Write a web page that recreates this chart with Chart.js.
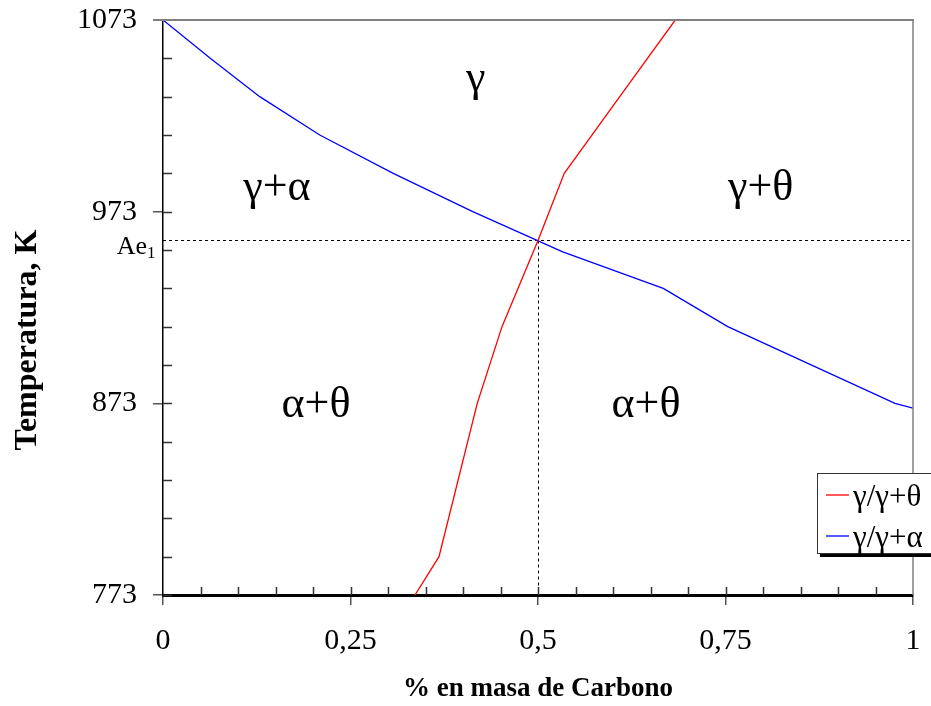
<!DOCTYPE html>
<html>
<head>
<meta charset="utf-8">
<script src="https://cdn.jsdelivr.net/npm/chart.js@4.4.1/dist/chart.umd.min.js"></script>
<style>
    body { margin: 0; background: #fff; }
    #wrap { width: 931px; height: 706px; position: relative; }
</style>
</head>
<body>
<div id="wrap"><canvas id="diagram"></canvas></div>
<script>
// gamma / gamma+theta boundary (red)
const redCarbon = [0.336, 0.368, 0.419, 0.452, 0.5, 0.535, 0.609, 0.683];
const redTemp = [773, 793, 873, 913, 958, 993, 1033, 1073];

// gamma / gamma+alpha boundary (blue)
const blueCarbon = [0, 0.063, 0.129, 0.209, 0.307, 0.413, 0.533, 0.667, 0.753, 0.976, 1];
const blueTemp = [1073, 1053, 1033, 1013, 993, 973, 952, 933, 913, 873, 870.5];

const seriesLabels = ["γ/γ+θ", "γ/γ+α"];
const xTicks = [0, 0.25, 0.5, 0.75, 1];
const yTicks = [773, 873, 973, 1073];

const ae1Temp = 958;
const ae1Carbon = 0.5;

const regionText = ["γ", "γ+α", "γ+θ", "α+θ", "α+θ"];
const regionCarbon = [0.417, 0.152, 0.797, 0.204, 0.644];
const regionTemp = [1042, 985, 985, 872, 872];

const serif = "'Liberation Serif', 'Times New Roman', serif";

function toPoints(xs, ys){
    return xs.map((x, i) => ({x: x, y: ys[i]}));
}

const extras = {
    id: "extras",
    beforeDatasetsDraw(chart){
        const {ctx, chartArea: a, scales: {x, y}} = chart;
        ctx.save();
        ctx.strokeStyle = "#000";
        ctx.lineWidth = 1;
        ctx.setLineDash([3, 3]);
        const py = Math.round(y.getPixelForValue(ae1Temp)) + 0.5;
        const px = Math.round(x.getPixelForValue(ae1Carbon)) + 0.5;
        ctx.beginPath();
        ctx.moveTo(a.left, py); ctx.lineTo(a.right, py);
        ctx.moveTo(px, py); ctx.lineTo(px, a.bottom);
        ctx.stroke();
        ctx.restore();
    },
    afterDraw(chart){
        const {ctx, chartArea: a, scales: {x, y}, data} = chart;
        ctx.save();

        // top and right frame (gray)
        ctx.strokeStyle = "#808080";
        ctx.lineWidth = 2;
        ctx.beginPath();
        ctx.moveTo(a.left - 10, a.top); ctx.lineTo(a.right + 1, a.top);
        ctx.stroke();
        ctx.lineWidth = 1.5;
        ctx.beginPath();
        ctx.moveTo(a.right, a.top); ctx.lineTo(a.right, a.bottom);
        ctx.stroke();

        // inside ticks
        ctx.strokeStyle = "#333";
        ctx.lineWidth = 1.5;
        ctx.beginPath();
        for(let t = 773; t < 1073; t += 20){
            const py = Math.round(y.getPixelForValue(t)) + 0.5;
            ctx.moveTo(a.left, py); ctx.lineTo(a.left + 9, py);
        }
        for(let i = 1; i < 20; i++){
            const px = Math.round(x.getPixelForValue(i * 0.05)) + 0.5;
            ctx.moveTo(px, a.bottom); ctx.lineTo(px, a.bottom - 8);
        }
        ctx.stroke();

        // region names
        ctx.fillStyle = "#000";
        ctx.font = "44px " + serif;
        ctx.textAlign = "center";
        ctx.textBaseline = "middle";
        regionText.forEach((txt, i) => {
            ctx.fillText(txt, x.getPixelForValue(regionCarbon[i]), y.getPixelForValue(regionTemp[i]));
        });

        // Ae1 label
        const aeY = y.getPixelForValue(ae1Temp) + 7;
        ctx.font = "26px " + serif;
        ctx.textAlign = "right";
        ctx.fillText("Ae", a.left - 16, aeY);
        ctx.font = "17px " + serif;
        ctx.textAlign = "left";
        ctx.fillText("1", a.left - 16, aeY + 6);

        // axis titles
        ctx.font = "bold 27px " + serif;
        ctx.textAlign = "center";
        ctx.fillText("% en masa de Carbono", (a.left + a.right) / 2, 689);
        ctx.translate(28, 340);
        ctx.rotate(-Math.PI / 2);
        ctx.font = "bold 32px " + serif;
        ctx.fillText("Temperatura, K", 0, 0);
        ctx.setTransform(1, 0, 0, 1, 0, 0);

        // legend box
        const lx = a.right - 96, ly = 473;
        ctx.fillStyle = "#000";
        ctx.fillRect(lx + 3, ly + 80, 140, 4);
        ctx.fillStyle = "#fff";
        ctx.fillRect(lx, ly, 140, 80);
        ctx.strokeStyle = "#333";
        ctx.lineWidth = 1;
        ctx.strokeRect(lx + 0.5, ly + 0.5, 140, 80);
        ctx.font = "31px " + serif;
        ctx.textAlign = "left";
        data.datasets.forEach((ds, i) => {
            const iy = ly + 22 + i * 41;
            ctx.strokeStyle = ds.borderColor;
            ctx.lineWidth = 1.3;
            ctx.beginPath();
            ctx.moveTo(lx + 9, iy); ctx.lineTo(lx + 32, iy);
            ctx.stroke();
            ctx.fillStyle = "#000";
            ctx.fillText(ds.label, lx + 36, iy + 3);
        });
        ctx.restore();
    }
};

new Chart(document.getElementById("diagram"), {
    type: "scatter",
    data: {
        datasets: [
            {
                label: seriesLabels[0],
                data: toPoints(redCarbon, redTemp),
                borderColor: "#ff0000",
                borderWidth: 1.3,
                showLine: true,
                pointRadius: 0,
                fill: false
            },
            {
                label: seriesLabels[1],
                data: toPoints(blueCarbon, blueTemp),
                borderColor: "#0000ff",
                borderWidth: 1.3,
                showLine: true,
                pointRadius: 0,
                fill: false
            }
        ]
    },
    options: {
        responsive: true,
        maintainAspectRatio: false,
        animation: false,
        layout: { padding: { top: 20, right: 18, left: 0, bottom: 0 } },
        plugins: { legend: { display: false }, tooltip: { enabled: false } },
        scales: {
            x: {
                type: "linear", min: 0, max: 1,
                afterBuildTicks: s => { s.ticks = xTicks.map(v => ({value: v})); },
                afterFit: s => { s.height = 111; s.paddingLeft = 0; s.paddingRight = 0; },
                border: { color: "#000", width: 3 },
                grid: { drawOnChartArea: false, tickLength: 10, color: "#555", lineWidth: 1.5 },
                ticks: {
                    padding: 18, color: "#000", maxRotation: 0, autoSkip: false,
                    font: { family: serif, size: 30 },
                    callback: v => String(v).replace(".", ",")
                }
            },
            y: {
                type: "linear", min: 773, max: 1073,
                afterBuildTicks: s => { s.ticks = yTicks.map(v => ({value: v})); },
                afterFit: s => { s.width = 163; s.paddingTop = 0; s.paddingBottom = 0; },
                border: { color: "#000", width: 1.5 },
                grid: { drawOnChartArea: false, tickLength: 10, color: "#555", lineWidth: 1.5 },
                ticks: {
                    padding: 16, color: "#000", font: { family: serif, size: 30 },
                    callback: v => String(v)
                }
            }
        }
    },
    plugins: [extras]
});
</script>
</body>
</html>
